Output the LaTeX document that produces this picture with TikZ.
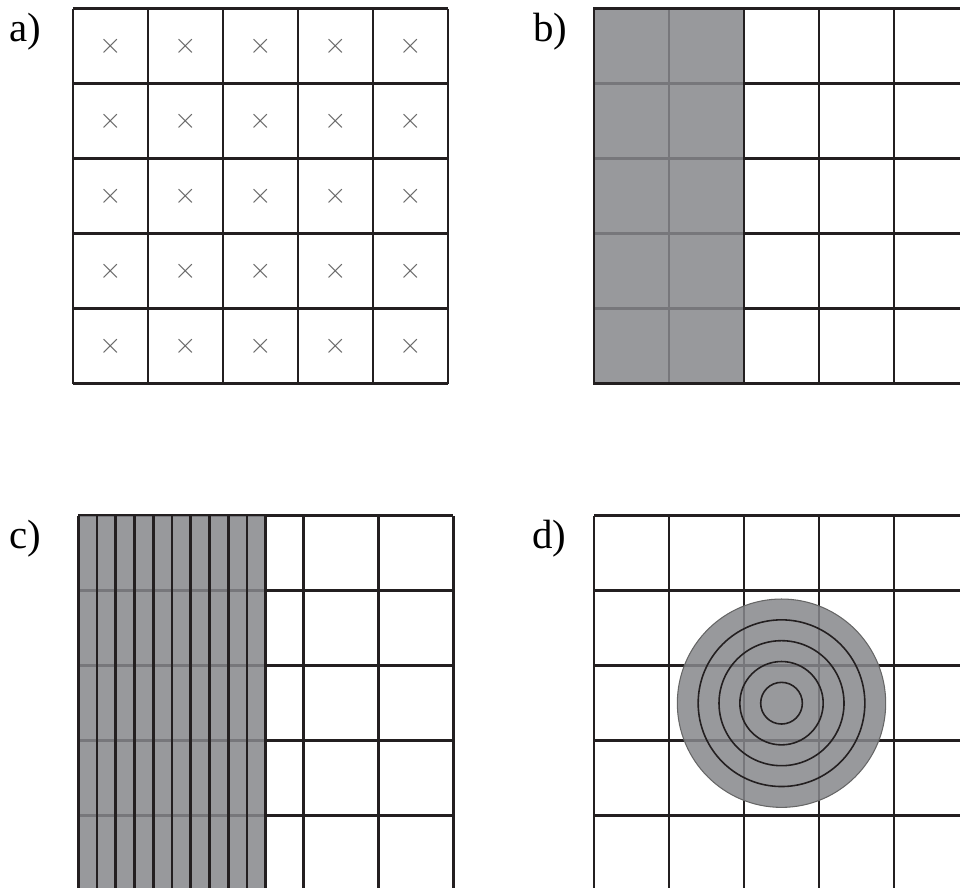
\documentclass[tikz,border=0pt]{standalone}
\usepackage{fontspec}
\setmainfont{Liberation Serif}
\definecolor{shadegray}{RGB}{134,135,139}
\definecolor{inkblack}{RGB}{35,31,32}

\begin{document}
\begin{tikzpicture} [grid_style/.style={draw=inkblack, line width=1pt},
            shade_style/.style={fill=shadegray, fill opacity=0.85},
            panel_label/.style={anchor=base west, inner sep=0pt, font=\fontsize{15.5}{18}\selectfont},
            cross_mark/.style={text=black!60, inner sep=0pt, font=\fontsize{10.5}{12}\selectfont}]
            \useasboundingbox (0,0) rectangle (12.8,11.8267);
            \clip (0,0) rectangle (12.8,11.8267);
            % labels
            \node[panel_label] (la) at (0.12,11.267) {a)};
            \node[panel_label] (lb) at (7.107,11.267) {b)};
            \node[panel_label] (lc) at (0.124,4.52) {c)};
            \node[panel_label] (ld) at (7.093,4.52) {d)};
            % a) grid with crosses
            \begin{scope}[shift={(0.973,6.711)}]
                \draw[grid_style] (0,0) grid (5,5);
                \foreach \i in {0,...,4}
                    \foreach \j in {0,...,4}
                        \node[cross_mark] (x-\i-\j) at (\i+0.5,\j+0.5) {$\times$};
            \end{scope}
            % b) two shaded columns
            \begin{scope}[shift={(7.92,6.711)}]
                \draw[grid_style] (0,0) grid (5,5);
                \fill[shade_style] (0,0) rectangle (2,5);
                \draw[grid_style] (0,0) rectangle (2,5);
            \end{scope}
            % c) shaded strips
            \begin{scope}[shift={(1.044,-0.049)}]
                \draw[grid_style] (0,0) grid (5,5);
                \fill[shade_style] (0,0) rectangle (2.5,5);
                \foreach \k in {0,...,10}
                    \draw[grid_style] (0.25*\k,0) -- (0.25*\k,5);
            \end{scope}
            % d) shaded disc with rings
            \begin{scope}[shift={(7.92,-0.049)}]
                \draw[grid_style] (0,0) grid (5,5);
                \filldraw[shade_style, draw=black!60, line width=0.4pt] (2.5,2.5) circle (1.389);
                \foreach \k in {1,...,4}
                    \draw[inkblack, line width=0.6pt] (2.5,2.5) circle (0.2778*\k);
            \end{scope}
        \end{tikzpicture}
\end{document}
